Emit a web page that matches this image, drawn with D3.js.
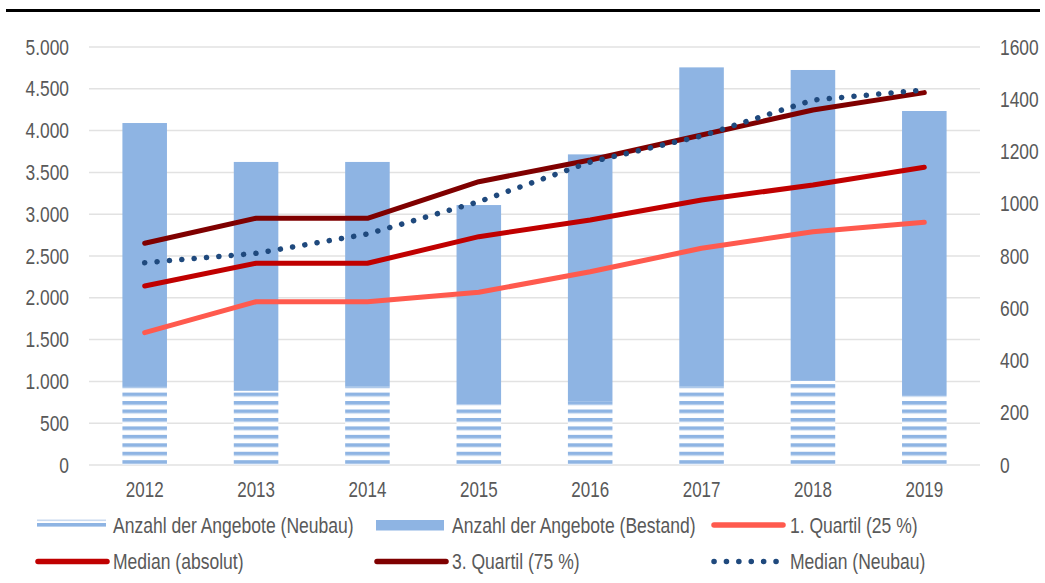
<!DOCTYPE html>
<html lang="de">
<head>
  <meta charset="UTF-8">
  <title>Angebote und Preise 2012-2019</title>
  <script src="https://d3js.org/d3.v7.min.js"></script>
  <style>
    body { margin: 0; background: #fff; }
    text { font-family: "Liberation Sans", Arial, sans-serif; fill: #595959; }
  </style>
</head>
<body>
  <svg id="chart" width="1045" height="583"></svg>

  <script>
    // Data
    const years = ['2012', '2013', '2014', '2015', '2016', '2017', '2018', '2019'];
    const angeboteNeubau = [302, 284, 300, 233, 242, 300, 322, 268];
    const angeboteBestand = [1007, 876, 860, 762, 947, 1222, 1190, 1087];
    const quartil1 = [1583, 1953, 1953, 2066, 2312, 2592, 2791, 2903];
    const medianAbsolut = [2141, 2413, 2413, 2731, 2931, 3170, 3349, 3561];
    const quartil3 = [2652, 2951, 2951, 3389, 3648, 3947, 4247, 4454];
    const medianNeubau = [2420, 2532, 2763, 3150, 3624, 3936, 4366, 4486];
    const leftTicks = [0, 500, 1000, 1500, 2000, 2500, 3000, 3500, 4000, 4500, 5000];
    const rightTicks = [0, 200, 400, 600, 800, 1000, 1200, 1400, 1600];

    const SX = 0.79;  // narrow axis text
    const SXL = 0.815; // narrow legend text
    const svg = d3.select('#chart');

    // top rule
    svg.append('line')
      .attr('x1', 6).attr('x2', 1040).attr('y1', 10.5).attr('y2', 10.5)
      .attr('stroke', '#000').attr('stroke-width', 3);

    const plot = { left: 89, right: 980, top: 47, bottom: 465 };

    const x = d3.scaleBand().domain(years)
      .range([plot.left, plot.right]).paddingInner(0.6).paddingOuter(0.3);
    const yL = d3.scaleLinear().domain([0, 5000]).range([plot.bottom, plot.top]);
    const yR = d3.scaleLinear().domain([0, 1600]).range([plot.bottom, plot.top]);
    const cx = d => x(d) + x.bandwidth() / 2;

    const de = d3.formatLocale({ decimal: ',', thousands: '.', grouping: [3], currency: ['', '€'] });
    const fmtL = de.format(',d');

    // hatched pattern for Neubau
    const defs = svg.append('defs');
    const pat = defs.append('pattern')
      .attr('id', 'hatch').attr('patternUnits', 'userSpaceOnUse')
      .attr('x', 0).attr('y', 460.2).attr('width', 10).attr('height', 8.45);
    pat.append('rect').attr('width', 10).attr('height', 8.45).attr('fill', '#fff');
    pat.append('rect').attr('y', 0).attr('width', 10).attr('height', 3.6).attr('fill', '#8EB4E3');
    pat.append('rect').attr('y', 3.6).attr('width', 10).attr('height', 0.8).attr('fill', '#dbe7f6');

    // gridlines
    svg.append('g').selectAll('line').data(leftTicks).join('line')
      .attr('x1', plot.left).attr('x2', plot.right)
      .attr('y1', d => yL(d)).attr('y2', d => yL(d))
      .attr('stroke', '#e2e2e2').attr('stroke-width', 1.5);

    // stacked bars on right axis
    const table = years.map((y, i) => ({ year: y, neubau: angeboteNeubau[i], bestand: angeboteBestand[i] }));
    const stack = d3.stack().keys(['neubau', 'bestand'])(table);
    const fills = { neubau: 'url(#hatch)', bestand: '#8EB4E3' };

    svg.append('g').selectAll('g').data(stack).join('g')
      .attr('fill', d => fills[d.key])
      .selectAll('rect').data(d => d).join('rect')
      .attr('x', d => x(d.data.year))
      .attr('width', x.bandwidth())
      .attr('y', d => yR(d[1]))
      .attr('height', d => yR(d[0]) - yR(d[1]));

    // lines on left axis
    const line = d3.line().x((d, i) => cx(years[i])).y(d => yL(d));
    const series = [
      { values: quartil1, color: '#FF5A4E', dash: null },
      { values: medianAbsolut, color: '#C00000', dash: null },
      { values: quartil3, color: '#7F0000', dash: null },
      { values: medianNeubau, color: '#1F497D', dash: '0.1 12.3' }
    ];
    svg.append('g').selectAll('path').data(series).join('path')
      .attr('d', d => line(d.values))
      .attr('fill', 'none')
      .attr('stroke', d => d.color)
      .attr('stroke-width', d => d.dash ? 5.5 : 5)
      .attr('stroke-dasharray', d => d.dash)
      .attr('stroke-linecap', 'round')
      .attr('stroke-linejoin', 'round');

    // axes
    function styleAxis(g, size) {
      g.select('.domain').remove();
      g.selectAll('.tick line').remove();
      g.selectAll('text')
        .attr('font-family', null).attr('fill', '#595959')
        .style('font-size', size + 'px')
        .attr('transform', `scale(${SX},1)`);
    }

    svg.append('g').attr('transform', 'translate(69,0)')
      .call(d3.axisLeft(yL).tickValues(leftTicks).tickFormat(fmtL).tickSize(0).tickPadding(0))
      .call(g => styleAxis(g, 22));

    svg.append('g').attr('transform', 'translate(1000,0)')
      .call(d3.axisRight(yR).tickValues(rightTicks).tickFormat(d3.format('d')).tickSize(0).tickPadding(0))
      .call(g => styleAxis(g, 22));

    svg.append('g').attr('transform', 'translate(0,481.5)')
      .call(d3.axisBottom(x).tickSize(0).tickPadding(0))
      .call(g => styleAxis(g, 21.5));

    // legend
    const legendItems = [
      { label: 'Anzahl der Angebote (Neubau)', kind: 'hatch', color: '#8EB4E3', col: 0, row: 0 },
      { label: 'Anzahl der Angebote (Bestand)', kind: 'rect', color: '#8EB4E3', col: 1, row: 0 },
      { label: '1. Quartil (25 %)', kind: 'line', color: '#FF5A4E', col: 2, row: 0 },
      { label: 'Median (absolut)', kind: 'line', color: '#C00000', col: 0, row: 1 },
      { label: '3. Quartil (75 %)', kind: 'line', color: '#7F0000', col: 1, row: 1 },
      { label: 'Median (Neubau)', kind: 'dots', color: '#1F497D', col: 2, row: 1 }
    ];
    const colX = [37, 376, 713];
    const colText = [113, 452, 790];
    const rowY = [525, 561.5];

    const lg = svg.append('g');
    legendItems.forEach(it => {
      const x0 = colX[it.col], yy = rowY[it.row];
      if (it.kind === 'hatch') {
        lg.append('rect').attr('x', x0).attr('y', yy - 5.5).attr('width', 69).attr('height', 1.6).attr('fill', '#c9daf0');
        lg.append('rect').attr('x', x0).attr('y', yy - 2).attr('width', 69).attr('height', 3.6).attr('fill', it.color);
      } else if (it.kind === 'rect') {
        lg.append('rect').attr('x', x0).attr('y', yy - 5).attr('width', 68).attr('height', 10.5).attr('fill', it.color);
      } else if (it.kind === 'line') {
        lg.append('line').attr('x1', x0 + 1).attr('x2', x0 + 70).attr('y1', yy).attr('y2', yy)
          .attr('stroke', it.color).attr('stroke-width', 5.5).attr('stroke-linecap', 'round');
      } else {
        lg.append('line').attr('x1', x0 + 1).attr('x2', x0 + 64).attr('y1', yy).attr('y2', yy)
          .attr('stroke', it.color).attr('stroke-width', 5.5).attr('stroke-linecap', 'round')
          .attr('stroke-dasharray', '0.1 12.3');
      }
      lg.append('text')
        .attr('transform', `translate(${colText[it.col]},${yy}) scale(${SXL},1)`)
        .attr('dy', '0.36em')
        .style('font-size', '21.5px')
        .text(it.label);
    });
  </script>
</body>
</html>
